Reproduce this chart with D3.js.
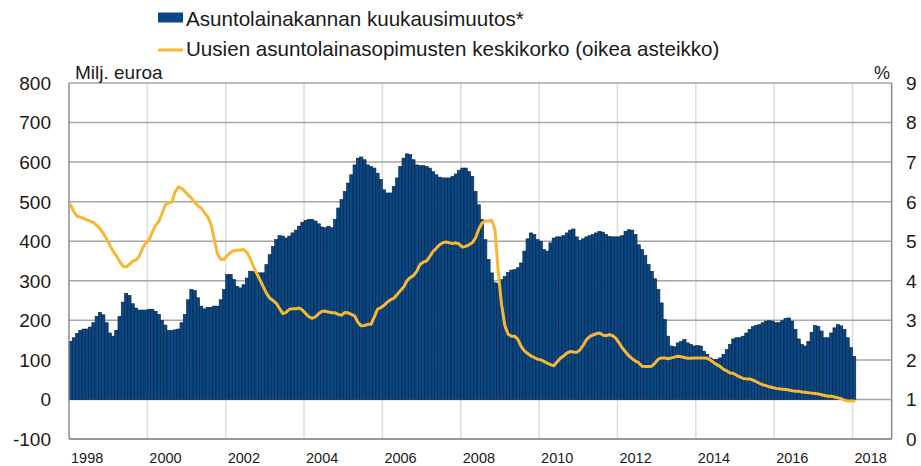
<!DOCTYPE html>
<html>
<head>
<meta charset="utf-8">
<script src="https://cdnjs.cloudflare.com/ajax/libs/d3/7.8.5/d3.min.js"></script>
<style>
  html, body { margin: 0; padding: 0; background: #ffffff; }
  svg { display: block; font-family: "Liberation Sans", Arial, sans-serif; }
</style>
</head>
<body>
<svg id="chart" width="921" height="466"></svg>
<script>
// ---------------- DATA ----------------
const startYear = 1998;
const endYear = 2018; // axis runs through Dec 2018

// Monthly change of housing loan stock, EUR million (Jan 1998 – Jan 2018)
const loanChange = [
  147,156,167,175,178,178,183,194,210,220,214,194,
  168,160,175,210,246,268,263,242,231,226,226,226,
  228,228,223,215,200,188,174,174,176,178,194,215,
  252,278,275,257,236,229,233,233,236,236,252,278,
  316,316,303,286,282,290,307,324,323,320,320,320,
  341,366,387,404,414,413,408,413,421,428,438,448,
  453,455,455,451,444,436,434,438,434,455,484,505,
  526,547,568,593,610,613,606,593,589,585,572,556,
  530,522,522,539,560,589,610,621,619,606,593,591,
  591,589,585,576,568,562,560,560,560,564,570,579,
  585,585,576,564,526,492,455,404,354,320,295,293,
  303,311,321,327,328,333,345,375,406,421,417,404,
  400,379,375,396,408,411,411,414,421,428,431,411,
  402,406,411,414,417,421,425,423,417,412,411,411,
  411,414,425,429,428,417,391,379,364,341,324,305,
  278,244,202,160,135,133,143,147,152,143,139,135,
  136,135,122,114,105,101,101,105,114,126,139,153,
  156,156,160,168,177,184,187,189,194,198,199,198,
  194,194,199,205,206,198,177,153,139,135,147,170,
  187,185,173,156,156,168,181,189,186,177,156,131,
  109
];

// Average interest rate on new housing loans, % (right scale)
const newLoanRate = [
  5.92,5.74,5.63,5.61,5.58,5.54,5.51,5.47,5.40,5.32,5.20,5.06,
  4.90,4.75,4.63,4.49,4.37,4.35,4.41,4.50,4.52,4.62,4.82,4.95,
  5.03,5.23,5.40,5.50,5.70,5.92,5.97,5.99,6.25,6.37,6.34,6.26,
  6.17,6.09,5.98,5.89,5.84,5.72,5.62,5.42,5.04,4.67,4.54,4.54,
  4.64,4.72,4.76,4.77,4.78,4.79,4.72,4.56,4.36,4.19,4.02,3.85,
  3.68,3.56,3.50,3.43,3.30,3.17,3.20,3.28,3.29,3.29,3.31,3.26,
  3.17,3.09,3.05,3.09,3.17,3.23,3.23,3.21,3.19,3.19,3.15,3.13,
  3.20,3.19,3.15,3.11,2.95,2.86,2.87,2.90,2.90,3.08,3.28,3.32,
  3.38,3.46,3.52,3.56,3.65,3.75,3.84,4.00,4.08,4.13,4.24,4.41,
  4.47,4.50,4.61,4.74,4.82,4.91,4.96,4.98,4.96,4.94,4.96,4.93,
  4.85,4.87,4.91,4.96,5.08,5.30,5.46,5.51,5.51,5.53,5.28,4.20,
  3.40,2.87,2.65,2.60,2.60,2.52,2.34,2.23,2.16,2.10,2.06,2.02,
  2.00,1.96,1.92,1.88,1.85,1.95,2.04,2.10,2.17,2.21,2.20,2.19,
  2.25,2.37,2.51,2.59,2.63,2.66,2.68,2.63,2.61,2.64,2.61,2.55,
  2.43,2.30,2.20,2.10,2.03,1.97,1.93,1.84,1.83,1.83,1.84,1.92,
  2.02,2.05,2.05,2.03,2.05,2.07,2.09,2.08,2.06,2.04,2.04,2.05,
  2.05,2.05,2.05,2.04,1.99,1.93,1.88,1.83,1.76,1.72,1.67,1.66,
  1.61,1.57,1.53,1.52,1.52,1.49,1.45,1.41,1.37,1.35,1.32,1.30,
  1.28,1.27,1.26,1.25,1.24,1.22,1.21,1.21,1.19,1.18,1.17,1.16,
  1.15,1.14,1.12,1.10,1.08,1.08,1.06,1.04,1.02,0.98,0.96,0.96,
  0.96
];

const leftTicks = [-100, 0, 100, 200, 300, 400, 500, 600, 700, 800];
const rightTicks = [0, 1, 2, 3, 4, 5, 6, 7, 8, 9];
const yearLabels = [1998, 2000, 2002, 2004, 2006, 2008, 2010, 2012, 2014, 2016, 2018];

const legendBarLabel = "Asuntolainakannan kuukausimuutos*";
const legendLineLabel = "Uusien asuntolainasopimusten keskikorko (oikea asteikko)";
const leftUnit = "Milj. euroa";
const rightUnit = "%";

// ---------------- LAYOUT ----------------
const W = 921, H = 466;
const plot = { left: 69, right: 891.7, top: 83, bottom: 439 };
const COL_BAR = "#084887";
const COL_BAR_EDGE = "#0b1f3a";
const COL_LINE = "#f7b733";

const svg = d3.select("#chart");

// month keys for the whole axis range
const months = [];
for (let y = startYear; y <= endYear; y++) {
  for (let m = 1; m <= 12; m++) months.push(y + "-" + String(m).padStart(2, "0"));
}
const barData = loanChange.map((v, i) => ({ key: months[i], v }));
const lineData = newLoanRate.map((v, i) => ({ key: months[i], v }));

const x = d3.scaleBand().domain(months).range([plot.left, plot.right]).padding(0);
const yL = d3.scaleLinear().domain([-100, 800]).range([plot.bottom, plot.top]);
const yR = d3.scaleLinear().domain([0, 9]).range([plot.bottom, plot.top]);

// vertical grid lines (every 2 years)
svg.append("g")
  .selectAll("line")
  .data(yearLabels.filter(y => y !== startYear))
  .join("line")
  .attr("x1", d => x(d + "-01")).attr("x2", d => x(d + "-01"))
  .attr("y1", plot.top).attr("y2", plot.bottom)
  .attr("stroke", "#dcdcdc").attr("stroke-width", 1.5);

// horizontal grid lines
svg.append("g")
  .selectAll("line")
  .data(leftTicks)
  .join("line")
  .attr("x1", plot.left).attr("x2", plot.right)
  .attr("y1", d => yL(d)).attr("y2", d => yL(d))
  .attr("stroke", "#a6a6a6").attr("stroke-width", 1.5);

// bars
svg.append("g")
  .selectAll("rect")
  .data(barData)
  .join("rect")
  .attr("x", d => x(d.key))
  .attr("width", x.bandwidth())
  .attr("y", d => Math.min(yL(d.v), yL(0)))
  .attr("height", d => Math.abs(yL(d.v) - yL(0)))
  .attr("fill", COL_BAR)
  .attr("stroke", COL_BAR_EDGE)
  .attr("stroke-width", 0.6);

// frame: left, bottom, right
const frame = svg.append("g").attr("stroke", "#8c8c8c").attr("stroke-width", 1.5).attr("fill", "none");
frame.append("line").attr("x1", plot.left).attr("x2", plot.left).attr("y1", plot.top).attr("y2", plot.bottom);
frame.append("line").attr("x1", plot.right).attr("x2", plot.right).attr("y1", plot.top).attr("y2", plot.bottom);
frame.append("line").attr("x1", plot.left).attr("x2", plot.right).attr("y1", plot.bottom).attr("y2", plot.bottom);

// line
const lineGen = d3.line()
  .x(d => x(d.key) + x.bandwidth() / 2)
  .y(d => yR(d.v))
  .curve(d3.curveLinear);
svg.append("path")
  .datum(lineData)
  .attr("d", lineGen)
  .attr("fill", "none")
  .attr("stroke", COL_LINE)
  .attr("stroke-width", 3)
  .attr("stroke-linejoin", "round")
  .attr("stroke-linecap", "round");

// left axis labels
svg.append("g")
  .selectAll("text")
  .data(leftTicks)
  .join("text")
  .attr("x", 51).attr("y", d => yL(d))
  .attr("dy", "0.36em")
  .attr("text-anchor", "end")
  .attr("font-size", 19).attr("fill", "#1a1a1a")
  .text(d => d);

// right axis labels
svg.append("g")
  .selectAll("text")
  .data(rightTicks)
  .join("text")
  .attr("x", 906).attr("y", d => yR(d))
  .attr("dy", "0.36em")
  .attr("text-anchor", "start")
  .attr("font-size", 19).attr("fill", "#1a1a1a")
  .text(d => d);

// year labels
svg.append("g")
  .selectAll("text")
  .data(yearLabels)
  .join("text")
  .attr("x", d => x(d + "-01") + 2).attr("y", 463)
  .attr("text-anchor", "start")
  .attr("font-size", 14.5).attr("fill", "#1a1a1a")
  .text(d => d);

// units
svg.append("text").attr("x", 75).attr("y", 79).attr("font-size", 19).attr("fill", "#1a1a1a").text(leftUnit);
svg.append("text").attr("x", 890).attr("y", 79).attr("text-anchor", "end").attr("font-size", 18).attr("fill", "#1a1a1a").text(rightUnit);

// legend
svg.append("rect").attr("x", 158).attr("y", 12.5).attr("width", 25).attr("height", 10).attr("fill", COL_BAR);
svg.append("text").attr("x", 186).attr("y", 26).attr("font-size", 20.6).attr("fill", "#1a1a1a").text(legendBarLabel);
svg.append("line").attr("x1", 158).attr("x2", 183).attr("y1", 50).attr("y2", 50).attr("stroke", COL_LINE).attr("stroke-width", 3);
svg.append("text").attr("x", 186).attr("y", 56).attr("font-size", 20.6).attr("fill", "#1a1a1a").text(legendLineLabel);
</script>
</body>
</html>
